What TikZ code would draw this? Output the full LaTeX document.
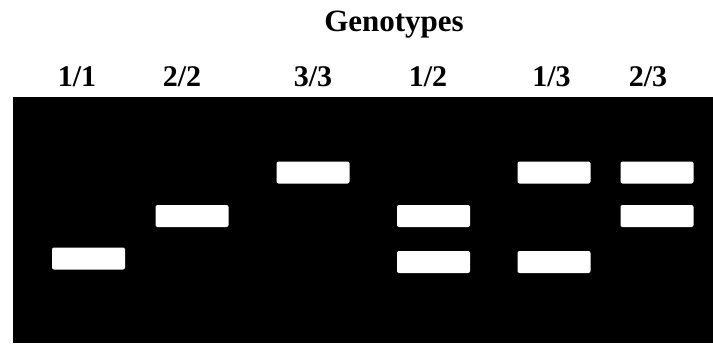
\documentclass[tikz,border=0pt]{standalone}
\usepackage{fontspec}
\setmainfont{Liberation Serif}
\tikzset{ %gel picture
  {gel/.style} ={fill=black},
  {band/.style} ={rectangle,fill=white,rounded corners=2pt,
                  inner sep=0,minimum width=73pt,minimum height=22pt},
  {lane label/.style} ={anchor=base,font=\fontsize{30}{32}\selectfont\bfseries},
  {title/.style} ={anchor=base,font=\fontsize{31}{34}\selectfont\bfseries},
 }
\begin{document}
\begin{tikzpicture}[x=1pt,y=-1pt]
\useasboundingbox (0,0) rectangle (713,345);
\fill[white] (0,0) rectangle (713,345);
\path[gel] (13,97) rectangle (713,343);

\node[title] (title) at (394,32) {Genotypes};

% lanes
\node[lane label] (l11) at (77,87) {1/1};
\node[lane label] (l22) at (182,87) {2/2};
\node[lane label] (l33) at (313,87) {3/3};
\node[lane label] (l12) at (428,87) {1/2};
\node[lane label] (l13) at (551.5,87) {1/3};
\node[lane label] (l23) at (648,87) {2/3};

% bands
\node[band] (b11) at (88.5,258.5) {};
\node[band] (b22) at (192,216) {};
\node[band] (b33) at (313,172.5) {};
\node[band] (b12a) at (433.5,216) {};
\node[band] (b12b) at (433.5,262) {};
\node[band] (b13a) at (554,172.5) {};
\node[band] (b13b) at (554,262) {};
\node[band] (b23a) at (657,172.5) {};
\node[band] (b23b) at (657,216) {};
\end{tikzpicture}
\end{document}
